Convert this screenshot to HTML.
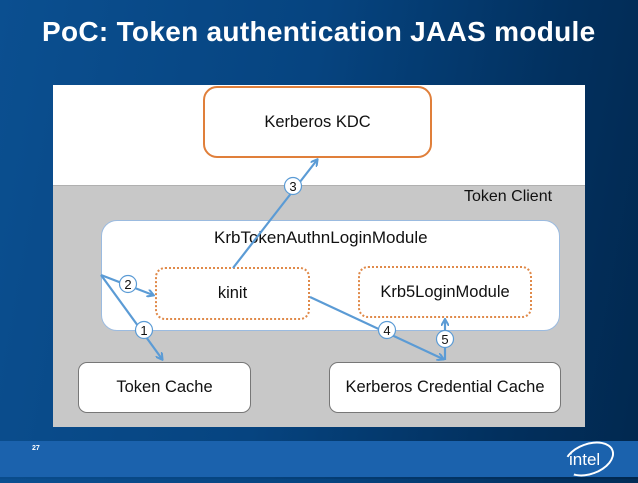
<!DOCTYPE html>
<html><head><style>
body{margin:0;width:638px;height:479px;overflow:hidden;position:relative;font-family:"Liberation Sans",sans-serif;
background:linear-gradient(100deg,#0b4f90 0%,#064480 45%,#02305e 80%,#01284f 100%);}
.t{position:absolute;left:42px;top:16px;color:#fff;font-weight:bold;font-size:28px;letter-spacing:0.3px}
.bar{position:absolute;left:0;top:441px;width:638px;height:36px;background:#1b62ad;}
.b{position:absolute;box-sizing:border-box;display:flex;align-items:center;justify-content:center;font-size:16.5px;color:#111;white-space:nowrap}
</style></head><body>
<div class="t">PoC: Token authentication JAAS module</div>
<div style="position:absolute;left:53px;top:85px;width:532px;height:341px;background:#fff"></div>
<div style="position:absolute;left:53px;top:185px;width:532px;height:241px;background:#c8c8c8;border-top:1px solid #b0b0b0"></div>
<div class="b" style="left:203px;top:86px;width:229px;height:72px;border:2px solid #e07f3a;border-radius:14px;background:#fff">Kerberos KDC</div>
<div style="position:absolute;left:464px;top:188px;font-size:16px;color:#111">Token Client</div>
<div style="position:absolute;left:101px;top:220px;width:459px;height:111px;background:#fff;border:1px solid #9bbbe0;border-radius:16px;box-sizing:border-box"></div>
<div style="position:absolute;left:214px;top:228px;font-size:17px;color:#111">KrbTokenAuthnLoginModule</div>
<div class="b" style="left:155px;top:267px;width:155px;height:53px;border:2px dotted #e08a4a;border-radius:10px">kinit</div>
<div class="b" style="left:358px;top:266px;width:174px;height:52px;border:2px dotted #e08a4a;border-radius:10px">Krb5LoginModule</div>
<div class="b" style="left:78px;top:362px;width:173px;height:51px;background:#fff;border:1px solid #777;border-radius:9px">Token Cache</div>
<div class="b" style="left:329px;top:362px;width:232px;height:51px;background:#fff;border:1px solid #777;border-radius:9px">Kerberos Credential Cache</div>
<svg style="position:absolute;left:0;top:0" width="638" height="479">
<defs><marker id="a" markerWidth="8" markerHeight="8" refX="6" refY="4" orient="auto" markerUnits="userSpaceOnUse"><path d="M0,0 L7,4 L0,8" fill="none" stroke="#5b9bd5" stroke-width="2"/></marker></defs>
<g stroke="#5b9bd5" stroke-width="2.2" fill="none">
<line x1="233" y1="268" x2="317" y2="160" marker-end="url(#a)"/>
<line x1="101" y1="275" x2="153" y2="295" marker-end="url(#a)"/>
<line x1="101" y1="275" x2="162" y2="359" marker-end="url(#a)"/>
<line x1="310" y1="297" x2="443" y2="359" marker-end="url(#a)"/>
<line x1="445" y1="360" x2="445" y2="320" marker-end="url(#a)"/>
</g>
<g font-size="13" text-anchor="middle" fill="#111" stroke-width="1.2">
<circle cx="293" cy="186" r="8.5" fill="#fff" stroke="#5b9bd5"/><text x="293" y="191">3</text>
<circle cx="128" cy="284" r="8.5" fill="#fff" stroke="#5b9bd5"/><text x="128" y="289">2</text>
<circle cx="144" cy="330" r="8.5" fill="#fff" stroke="#5b9bd5"/><text x="144" y="335">1</text>
<circle cx="387" cy="330" r="8.5" fill="#fff" stroke="#5b9bd5"/><text x="387" y="335">4</text>
<circle cx="445" cy="339" r="8.5" fill="#fff" stroke="#5b9bd5"/><text x="445" y="344">5</text>
</g>
</svg>
<div class="bar"></div>
<div style="position:absolute;left:32px;top:445px;color:#fff;font-size:7px;font-weight:bold">27</div>
<div style="position:absolute;left:563px;top:443px;width:52px;height:32px;border:2px solid #fff;border-radius:50%;border-left-color:transparent;transform:rotate(-20deg);box-sizing:border-box"></div>
<div style="position:absolute;left:569px;top:450px;color:#fff;font-size:17px">intel</div>
</body></html>
